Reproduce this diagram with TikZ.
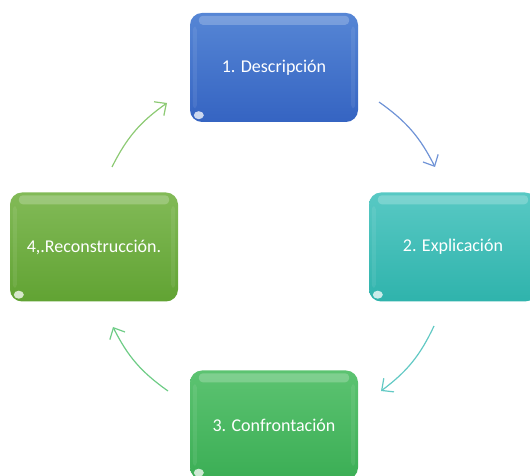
\documentclass[tikz,border=0pt]{standalone}
\usepackage{fontspec}
\setmainfont{Carlito}
\usetikzlibrary{arrows.meta,calc}
\definecolor{blueT}{HTML}{5686D5}
\definecolor{blueB}{HTML}{3564C2}
\definecolor{tealT}{HTML}{58C9C4}
\definecolor{tealB}{HTML}{2FB3AC}
\definecolor{grnT}{HTML}{5CC371}
\definecolor{grnB}{HTML}{3BAE55}
\definecolor{oliT}{HTML}{82BA57}
\definecolor{oliB}{HTML}{61A333}
\definecolor{arA}{HTML}{6F93D6}
\definecolor{arB}{HTML}{62C9C4}
\definecolor{arC}{HTML}{6ECC86}
\definecolor{arD}{HTML}{8DCA74}
\tikzset{
  stagebox/.style={rounded corners=12pt, minimum width=168pt, minimum height=109pt,
    inner sep=0pt, text=white, font=\fontsize{18}{21}\selectfont, draw=none},
  cyc/.style={line width=1.2pt, -{Straight Barb[length=9pt,width=17pt]}},
}
\newcommand\glossy[1]{%
  \fill[white, opacity=0.22, rounded corners=4pt]
    ($(#1.north west)+(9pt,-3pt)$) rectangle ($(#1.north east)+(-9pt,-12pt)$);
  \fill[white, opacity=0.08, rounded corners=3pt]
    ($(#1.north west)+(3pt,-14pt)$) rectangle ($(#1.south west)+(7pt,14pt)$);
  \fill[white, opacity=0.08, rounded corners=3pt]
    ($(#1.north east)+(-3pt,-14pt)$) rectangle ($(#1.south east)+(-7pt,14pt)$);
  \fill[white, opacity=0.75] ($(#1.south west)+(9pt,7pt)$) ellipse[x radius=5pt, y radius=4pt];
}
\begin{document}
\begin{tikzpicture}[x=1pt,y=1pt]
\useasboundingbox (0,0) rectangle (530,476);
\clip (0,0) rectangle (530,476);
\node[stagebox, top color=blueT, bottom color=blueB] (d) at (274,408.5) {1. Descripción};
\node[stagebox, top color=tealT, bottom color=tealB] (e) at (453,229) {2. Explicación};
\node[stagebox, top color=grnT, bottom color=grnB] (c) at (274,51) {3. Confrontación};
\node[stagebox, top color=oliT, bottom color=oliB] (r) at (94,229) {4,.Reconstrucción.};
\glossy{d}\glossy{e}\glossy{c}\glossy{r}
\coordinate (s1) at (379,374); \coordinate (e1) at (435,309);
\coordinate (s2) at (434,150); \coordinate (e2) at (381,85);
\coordinate (s3) at (168,85);  \coordinate (e3) at (113,149);
\coordinate (s4) at (112,309); \coordinate (e4) at (167,373);
\draw[cyc, arA] (s1) to[bend left=14] (e1);
\draw[cyc, arB] (s2) to[bend left=14] (e2);
\draw[cyc, arC] (s3) to[bend left=14] (e3);
\draw[cyc, arD] (s4) to[bend left=14] (e4);
\end{tikzpicture}
\end{document}
